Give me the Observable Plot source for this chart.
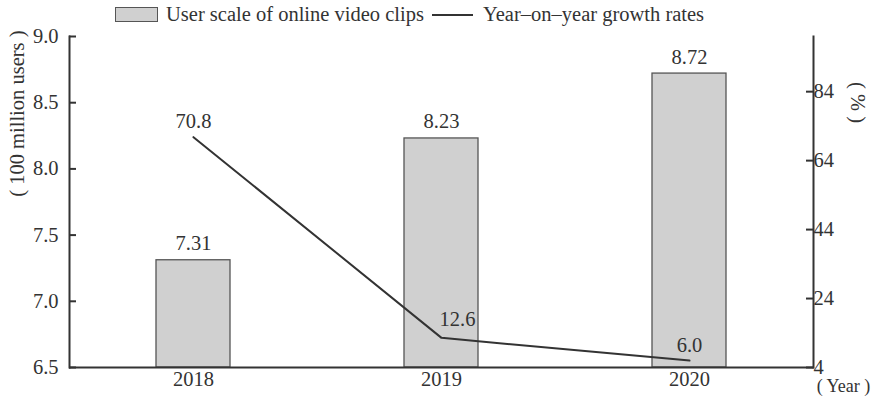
<!DOCTYPE html>
<html>
<head>
<meta charset="utf-8">
<script src="https://cdn.jsdelivr.net/npm/d3@7"></script>
<script src="https://cdn.jsdelivr.net/npm/@observablehq/plot@0.6"></script>
<style>
  html, body { margin: 0; padding: 0; background: #fff; }
  #wrap { position: relative; width: 872px; height: 396px; font-family: "Liberation Serif", serif; color: #333; }
  #legend { position: absolute; top: 0; left: 0; width: 872px; height: 30px; font-size: 20.5px; }
  #legend .item { position: absolute; top: 3px; display: flex; align-items: center; white-space: nowrap; }
  #legend .sw { width: 41px; height: 13px; background: #d0d0d0; border: 1px solid #555; margin-right: 8px; }
  #legend .ln { width: 41px; height: 0; border-top: 2px solid #333; margin-right: 10px; }
  svg text { font-family: "Liberation Serif", serif; }
</style>
</head>
<body>
<div id="wrap">
  <div id="chart"></div>
  <div id="legend">
    <div class="item" style="left:115px"><div class="sw"></div><span>User scale of online video clips</span></div>
    <div class="item" style="left:432px"><div class="ln"></div><span>Year–on–year growth rates</span></div>
  </div>
</div>
<script>
const years = ["2018", "2019", "2020"];
const users = [7.31, 8.23, 8.72];
const growth = [70.8, 12.6, 6.0];
const leftTicks = [6.5, 7.0, 7.5, 8.0, 8.5, 9.0];
const rightTicks = [4, 24, 44, 64, 84];
const leftDomain = [6.5, 9.0];
const rightDomain = [4, 100];

const data = years.map((y, i) => ({year: y, users: users[i], growth: growth[i]}));
const g2y = d3.scaleLinear().domain(rightDomain).range(leftDomain);

const font = "'Liberation Serif', serif";
const ink = "#333";
const fs = 20.5;

const plot = Plot.plot({
  width: 872,
  height: 396,
  marginLeft: 69,
  marginRight: 59,
  marginTop: 36,
  marginBottom: 29,
  style: {fontFamily: font, fontSize: fs + "px", color: ink, background: "#fff"},
  x: {type: "band", domain: years, paddingInner: 0.7, paddingOuter: 0.35, axis: null},
  y: {domain: leftDomain, axis: null},
  marks: [
    Plot.barY(data, {x: "year", y1: leftDomain[0], y2: "users", fill: "#d0d0d0", stroke: "#555", strokeWidth: 1.3}),
    Plot.line(data, {x: "year", y: d => g2y(d.growth), stroke: ink, strokeWidth: 2}),
    Plot.frame({anchor: "left", stroke: ink, strokeWidth: 2}),
    Plot.frame({anchor: "right", stroke: ink, strokeWidth: 2}),
    Plot.ruleY([leftDomain[0]], {stroke: ink, strokeWidth: 2}),
    Plot.axisY(leftTicks, {anchor: "left", tickSize: -7, tickPadding: 18, tickFormat: d3.format(".1f"), label: null, fill: ink, stroke: ink, strokeWidth: 2, fontSize: fs}),
    Plot.axisY(rightTicks, {anchor: "right", y: d => g2y(d), tickFormat: d => String(d), tickSize: -8, tickPadding: 8, label: null, fill: ink, stroke: ink, strokeWidth: 2, fontSize: fs}),
    Plot.axisX(years, {anchor: "bottom", tickSize: 0, tickPadding: 4, label: null, fill: ink, fontSize: fs}),
    Plot.text(data, {x: "year", y: "users", text: d => d3.format(".2f")(d.users), lineAnchor: "bottom", dy: -10, fill: ink, fontSize: fs}),
    Plot.text(data, {filter: d => d.year !== "2019", x: "year", y: d => g2y(d.growth), text: d => d3.format(".1f")(d.growth), lineAnchor: "bottom", dy: -9, fill: ink, fontSize: fs}),
    Plot.text(data, {filter: d => d.year === "2019", x: "year", y: d => g2y(d.growth), text: d => d3.format(".1f")(d.growth), lineAnchor: "bottom", dx: 16, dy: -12, fill: ink, fontSize: fs}),
    Plot.text(["( 100 million users )"], {frameAnchor: "top-left", text: d => d, rotate: -90, textAnchor: "end", dx: -60, dy: -6, fill: ink, fontSize: fs}),
    Plot.text(["( % )"], {frameAnchor: "top-right", text: d => d, rotate: 90, textAnchor: "middle", dx: 52, dy: 66, fill: ink, fontSize: fs}),
    Plot.text(["( Year )"], {frameAnchor: "bottom-right", text: d => d, textAnchor: "middle", lineAnchor: "top", dx: 30, dy: 12, fill: ink, fontSize: 18})
  ]
});
document.getElementById("chart").appendChild(plot);
</script>
</body>
</html>
